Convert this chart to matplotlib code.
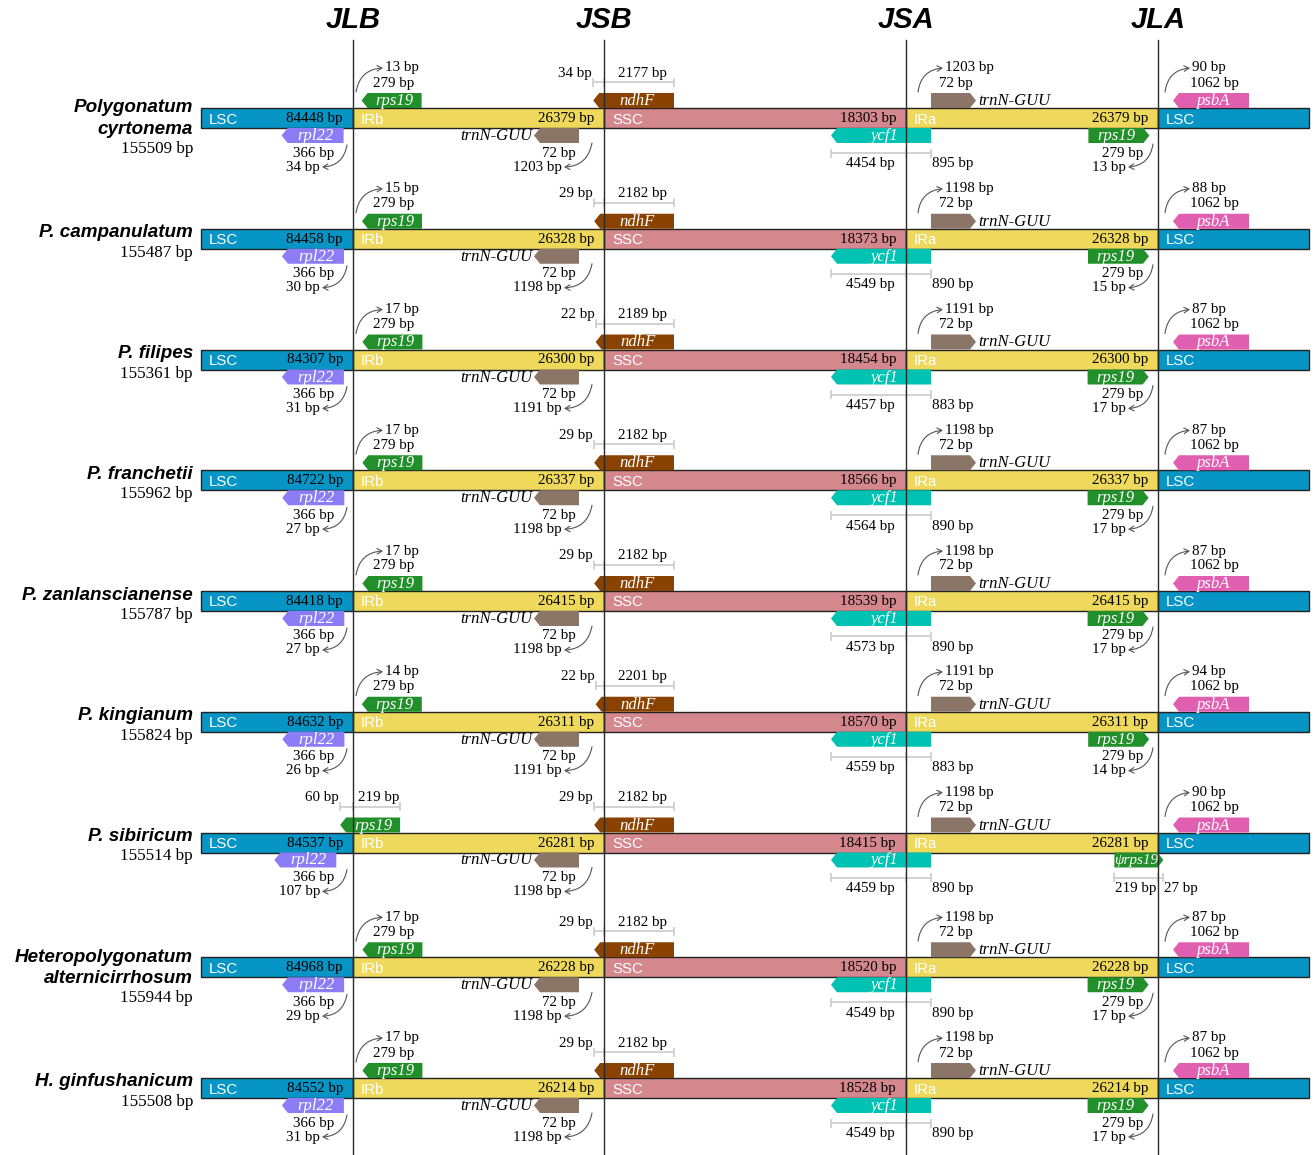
import matplotlib
matplotlib.use("Agg")
import matplotlib.pyplot as plt
from matplotlib.patches import Rectangle, Polygon, FancyArrowPatch

# ---------------------------------------------------------------- data
species = ["Polygonatum\ncyrtonema", "P. campanulatum", "P. filipes", "P. franchetii",
           "P. zanlanscianense", "P. kingianum", "P. sibiricum",
           "Heteropolygonatum\nalternicirrhosum", "H. ginfushanicum"]
genome_bp = [155509, 155487, 155361, 155962, 155787, 155824, 155514, 155944, 155508]
lsc_bp = [84448, 84458, 84307, 84722, 84418, 84632, 84537, 84968, 84552]
ir_bp = [26379, 26328, 26300, 26337, 26415, 26311, 26281, 26228, 26214]
ssc_bp = [18303, 18373, 18454, 18566, 18539, 18570, 18415, 18520, 18528]

# rps19 at JLB / JLA: distance from junction (None = gene spans the junction)
rps19_len = 279
rps19_gap = [13, 15, 17, 17, 17, 14, None, 17, 17]
# P. sibiricum: rps19 across JLB (LSC part, IRb part), psi-rps19 across JLA (IRa part, LSC part)
rps19_split_jlb = (60, 219)
psi_rps19_split_jla = (219, 27)

rpl22_len = 366
rpl22_gap = [34, 30, 31, 27, 27, 26, 107, 29, 31]

ndhf_in_irb = [34, 29, 22, 29, 29, 22, 29, 29, 29]
ndhf_in_ssc = [2177, 2182, 2189, 2182, 2182, 2201, 2182, 2182, 2182]

trnn_len = 72
trnn_gap = [1203, 1198, 1191, 1198, 1198, 1191, 1198, 1198, 1198]

ycf1_in_ssc = [4454, 4549, 4457, 4564, 4573, 4559, 4459, 4549, 4549]
ycf1_in_ira = [895, 890, 883, 890, 890, 883, 890, 890, 890]

psba_len = 1062
psba_gap = [90, 88, 87, 87, 87, 94, 90, 87, 87]

junction_names = ["JLB", "JSB", "JSA", "JLA"]

# ---------------------------------------------------------------- style
C_LSC = "#0795c6"
C_IR = "#eed95c"
C_SSC = "#d4878d"
C_RPS19 = "#22902a"
C_RPL22 = "#8c7cf5"
C_NDHF = "#8a4200"
C_TRNN = "#8b7566"
C_YCF1 = "#00c2b2"
C_PSBA = "#e05fb0"
C_DIM = "#cfcfcf"
C_ARC = "#555555"

SERIF = "Liberation Serif"
SANS = "Liberation Sans"
FS_BP = 10.8
FS_GENE = 12
FS_REGION = 10.8
FS_NAME = 13.6

W, H = 1314, 1155
fig = plt.figure(figsize=(W / 100, H / 100), dpi=100)
ax = fig.add_axes([0, 0, 1, 1])
ax.set_xlim(0, W)
ax.set_ylim(H, 0)
ax.axis("off")

X_L, X_R = 201, 1309
XJ = [353, 604, 906, 1158]
X_JLB, X_JSB, X_JSA, X_JLA = XJ
BAR_H = 20
GENE_H = 15
TIP = 6


def bp(v):
    return f"{v} bp"


def txt(x, y, s, ha="left", size=FS_BP, color="black", family=SERIF, style="normal",
        weight="normal", z=6):
    ax.text(x, y, s, ha=ha, va="center", fontsize=size, color=color, family=family,
            style=style, weight=weight, zorder=z)


def gene(x0, x1, y0, y1, color, point, label, size=FS_GENE):
    ym = (y0 + y1) / 2
    if point == "left":
        pts = [(x0, ym), (x0 + TIP, y0), (x1, y0), (x1, y1), (x0 + TIP, y1)]
        cx = (x0 + TIP + x1) / 2
    else:
        pts = [(x0, y0), (x1 - TIP, y0), (x1, ym), (x1 - TIP, y1), (x0, y1)]
        cx = (x0 + x1 - TIP) / 2
    ax.add_patch(Polygon(pts, closed=True, facecolor=color, edgecolor="none", zorder=3))
    if label:
        txt(cx, ym + 0.5, label, ha="center", size=size, color="white", style="italic", z=4)


def curl(x0, y0, x1, y1):
    ax.add_patch(FancyArrowPatch((x0, y0), (x1, y1), connectionstyle="arc3,rad=-0.4",
                                 arrowstyle="->,head_length=3.5,head_width=2",
                                 color=C_ARC, lw=0.8, zorder=5, shrinkA=0, shrinkB=0))


def dim(xs, y):
    ax.plot([xs[0], xs[-1]], [y, y], color=C_DIM, lw=1.3, zorder=2,
            solid_capstyle="butt")
    for x in xs:
        ax.plot([x, x], [y - 3.5, y + 3.5], color=C_DIM, lw=1.3, zorder=2)


# junction headers and lines
for name, x in zip(junction_names, XJ):
    txt(x, 20, name, ha="center", size=21, family=SANS, style="italic", weight="bold")
    ax.plot([x, x], [40, H], color="#2a2a2a", lw=1.0, zorder=7)

for i in range(len(species)):
    yc = 118 + 120.75 * i + (4 if i >= 7 else 0)
    t, b = yc - BAR_H / 2, yc + BAR_H / 2

    # species label
    lines = species[i].split("\n")
    if len(lines) == 2:
        txt(193, yc - 10, lines[0], ha="right", size=FS_NAME, family=SANS, style="italic", weight="bold")
        txt(193, yc + 11, lines[1], ha="right", size=FS_NAME, family=SANS, style="italic", weight="bold")
        txt(193, yc + 31, bp(genome_bp[i]), ha="right", size=12.3)
    else:
        txt(193, yc - 6, lines[0], ha="right", size=FS_NAME, family=SANS, style="italic", weight="bold")
        txt(193, yc + 14, bp(genome_bp[i]), ha="right", size=12.3)

    # quadripartite bar
    segs = [(X_L, X_JLB, C_LSC, "LSC", lsc_bp[i]),
            (X_JLB, X_JSB, C_IR, "IRb", ir_bp[i]),
            (X_JSB, X_JSA, C_SSC, "SSC", ssc_bp[i]),
            (X_JSA, X_JLA, C_IR, "IRa", ir_bp[i]),
            (X_JLA, X_R, C_LSC, "LSC", None)]
    for x0, x1, c, name, v in segs:
        ax.add_patch(Rectangle((x0, t), x1 - x0, BAR_H, facecolor=c, edgecolor="#222222",
                               lw=1.0, zorder=2))
        txt(x0 + 8, yc + 1.5, name, size=FS_REGION, color="white", family=SANS, z=4)
        if v is not None:
            txt(x1 - 10, yc + 0.5, bp(v), ha="right", z=4)

    # --- JLB: rps19 above, rpl22 below
    if rps19_gap[i] is not None:
        x0 = X_JLB + 6 + 0.2 * rps19_gap[i]
        gene(x0, x0 + 60, t - GENE_H, t, C_RPS19, "left", "rps19")
        curl(X_JLB + 3, t - 16, X_JLB + 30, t - 40)
        txt(X_JLB + 32, t - 40, bp(rps19_gap[i]))
        txt(X_JLB + 20, t - 25, bp(rps19_len))
    else:
        a, c = rps19_split_jlb
        x0 = X_JLB - 60 * a / (a + c)
        gene(x0, x0 + 60, t - GENE_H, t, C_RPS19, "left", "rps19")
        dim([x0, X_JLB, x0 + 60], t - 26)
        txt(x0 - 1, t - 35, bp(a), ha="right")
        txt((X_JLB + x0 + 60) / 2 + 2, t - 35, bp(c), ha="center")

    x1 = X_JLB - (6 + 0.1 * rpl22_gap[i])
    gene(x1 - 62, x1, b, b + GENE_H, C_RPL22, "left", "rpl22")
    curl(X_JLB - 6, b + 17, X_JLB - 31, b + 39)
    txt(X_JLB - 19, b + 25, bp(rpl22_len), ha="right")
    txt(X_JLB - 33, b + 39, bp(rpl22_gap[i]), ha="right")

    # --- JSB: ndhF above, trnN-GUU below (IRb)
    x0 = X_JSB - (4 + 0.2 * ndhf_in_irb[i])
    gene(x0, X_JSB + 70, t - GENE_H, t, C_NDHF, "left", "ndhF")
    dim([x0, X_JSB, X_JSB + 70], t - 26)
    txt(x0 - 1, t - 35, bp(ndhf_in_irb[i]), ha="right")
    txt(X_JSB + 38, t - 35, bp(ndhf_in_ssc[i]), ha="center")

    gene(534, 579, b, b + GENE_H, C_TRNN, "left", None)
    txt(532, b + 8, "trnN-GUU", ha="right", size=FS_GENE, style="italic")
    curl(X_JSB - 12, b + 15, X_JSB - 40, b + 39)
    txt(576, b + 25, bp(trnn_len), ha="right")
    txt(X_JSB - 42, b + 39, bp(trnn_gap[i]), ha="right")

    # --- JSA: ycf1 below, trnN-GUU above (IRa)
    gene(831, 931, b, b + GENE_H, C_YCF1, "left", "ycf1")
    dim([831, X_JSA, 931], b + 25)
    txt(X_JSA - 11, b + 36, bp(ycf1_in_ssc[i]), ha="right")
    txt(932, b + 36, bp(ycf1_in_ira[i]))

    gene(931, 976, t - GENE_H, t, C_TRNN, "right", None)
    txt(978, t - 7, "trnN-GUU", size=FS_GENE, style="italic")
    curl(X_JSA + 12, t - 16, X_JSA + 37, t - 40)
    txt(X_JSA + 39, t - 40, bp(trnn_gap[i]))
    txt(X_JSA + 33, t - 25, bp(trnn_len))

    # --- JLA: rps19 below (IRa), psbA above (LSC)
    if rps19_gap[i] is not None:
        x1 = X_JLA - (6 + 0.2 * rps19_gap[i])
        gene(x1 - 61, x1, b, b + GENE_H, C_RPS19, "right", "rps19")
        curl(X_JLA - 5, b + 16, X_JLA - 30, b + 39)
        txt(X_JLA - 15, b + 25, bp(rps19_len), ha="right")
        txt(X_JLA - 32, b + 39, bp(rps19_gap[i]), ha="right")
    else:
        a, c = psi_rps19_split_jla
        x0 = X_JLA - 49 * a / (a + c)
        gene(x0, x0 + 49, b, b + GENE_H, C_RPS19, "right", "\u03c8rps19", size=11)
        dim([x0, X_JLA, x0 + 49], b + 25)
        txt(X_JLA - 2, b + 36, bp(a), ha="right")
        txt(x0 + 50, b + 36, bp(c))

    gene(1173, 1249, t - GENE_H, t, C_PSBA, "left", "psbA")
    curl(X_JLA + 7, t - 16, X_JLA + 32, t - 40)
    txt(X_JLA + 34, t - 40, bp(psba_gap[i]))
    txt(X_JLA + 32, t - 25, bp(psba_len))

fig.savefig("out.png", dpi=100)
